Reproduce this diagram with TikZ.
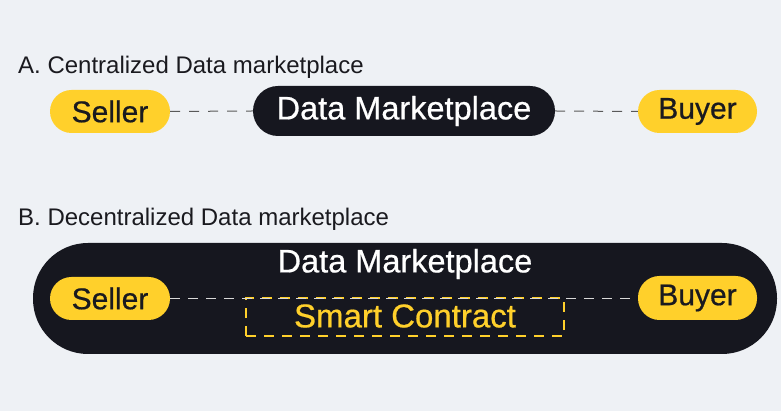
\documentclass[tikz,border=0pt]{standalone}
\usepackage{fontspec}
\setmainfont{Liberation Sans}
\newfontfamily\medfont[FakeBold=0.6]{Liberation Sans}
\definecolor{bg}{HTML}{EEF1F5}
\definecolor{ylw}{HTML}{FFD02B}
\definecolor{drk}{HTML}{16171F}
\definecolor{txt}{HTML}{1A1A1F}
\begin{document}
\begin{tikzpicture}[x=1pt,y=1pt,
  pill/.style={fill=ylw,text=txt,rounded corners=21.5pt,minimum width=120pt,minimum height=43pt,inner sep=0pt,font=\medfont\fontsize{30}{36}\selectfont},
  biglabel/.style={inner sep=0pt,font=\medfont\fontsize{32.5}{38}\selectfont},
  darkpill/.style={biglabel,fill=drk,text=white,rounded corners=25pt,minimum width=302pt,minimum height=50pt},
  title/.style={anchor=base west,inner sep=0pt,text=txt,font=\fontsize{24}{28}\selectfont},
  linkA/.style={draw=black!65,line width=1pt,dash pattern=on 10pt off 9pt},
  linkB/.style={draw=white!85!black,line width=1.2pt,dash pattern=on 10pt off 8pt},
  contract/.style={draw=ylw,line width=1.2pt,dash pattern=on 10pt off 8pt,minimum width=318pt,minimum height=38pt,inner sep=0pt}
]
\fill[bg] (0,0) rectangle (781,411);
\useasboundingbox (0,0) rectangle (781,411);

% Part A
\node[title] (tA) at (18,337) {A. Centralized Data marketplace};
\node[pill] (sA) at (110,299.5) {Seller};
\node[darkpill] (mA) at (404,300) {Data Marketplace};
\node[pill,minimum width=119pt] (bA) at (697.5,299.5) {Buyer};
\draw[linkA] (sA.east) -- (mA.west);
\draw[linkA] (mA.east) -- (bA.west);

% Part B
\node[title] (tB) at (18,185) {B. Decentralized Data marketplace};
\node[fill=drk,rounded corners=55pt,minimum width=744pt,minimum height=111pt,inner sep=0pt] (big) at (405,112.5) {};
\node[biglabel,text=white] (mB) at (405,147) {Data Marketplace};
\node[contract] (sc) at (405,94) {};
\node[biglabel,text=ylw,font=\medfont\fontsize{33}{38}\selectfont] (scT) at (405,95) {Smart Contract};
\node[pill] (sB) at (110,112.5) {Seller};
\node[pill,minimum width=119pt,minimum height=44pt] (bB) at (697.5,113) {Buyer};
\draw[linkB] (sB.east) -- (bB.west |- sB.east);
\end{tikzpicture}
\end{document}
